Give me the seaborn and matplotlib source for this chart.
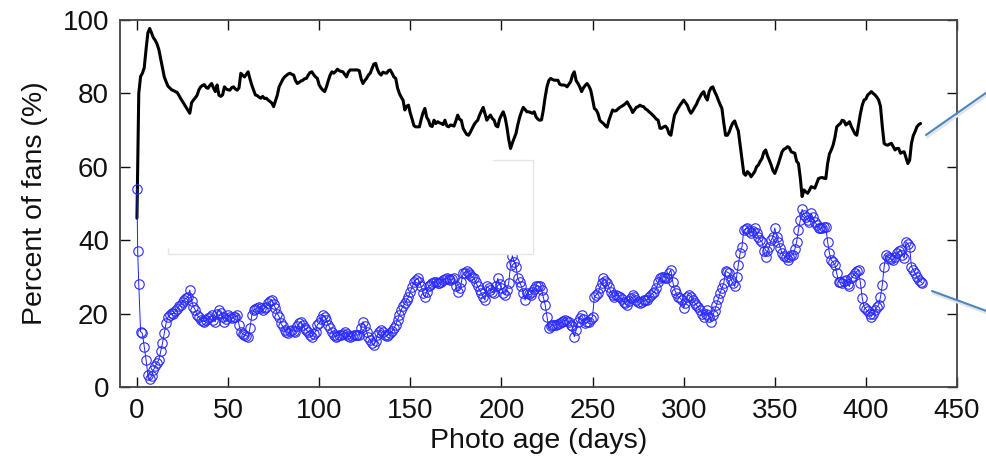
import numpy as np
import pandas as pd
import matplotlib
matplotlib.use("Agg")
import matplotlib.pyplot as plt
from matplotlib.lines import Line2D
from matplotlib.patches import Rectangle
import seaborn as sns

# ---------------- data ----------------
black_days = list(range(0, 431))
black_pct = [
    46, 80, 84.6, 85.5, 87, 92, 96.5, 97.7, 96.5, 95.2,
    94.5, 93.5, 92, 89.5, 87, 84.5, 83.2, 82, 81.5, 81,
    80.8, 80.5, 80.3, 79.5, 78.6, 77.8, 77, 76.2, 75.4, 74.6,
    77.5, 78.2, 78.8, 79.5, 81, 81.8, 82.2, 82.4, 81.6, 81.4,
    82.2, 82.7, 81.5, 80.5, 82.3, 79.5, 79.2, 79.6, 81.8, 81.2,
    81, 80.9, 81.6, 81.8, 81.2, 80.9, 81.5, 85.5, 85, 84.5,
    85.2, 85.9, 84, 82.3, 80.9, 79.6, 79.4, 79, 78.7, 79.2,
    78.6, 78.7, 78.2, 77.8, 77.4, 76.4, 78, 79.5, 81.8, 82.8,
    83.8, 84.5, 84.9, 85.3, 85.5, 85.2, 85, 83.5, 82.7, 83,
    83.4, 83.6, 84, 84.1, 85, 85.7, 85.9, 85.1, 84.5, 84.1,
    82.3, 81.5, 80.9, 80.5, 81.8, 83.5, 85, 85.9, 85.5, 86,
    86.6, 86.2, 86, 85.9, 85.2, 84.5, 85.8, 86.4, 86.4, 86.4,
    86.4, 86.4, 86.2, 84, 82.7, 83.5, 84.1, 85, 85.5, 86.8,
    88, 88.2, 86.5, 85.5, 85, 85.8, 85.6, 85.5, 86.2, 86.4,
    85.5, 84.5, 84.1, 81.5, 80, 79, 78.2, 75.5, 76.5, 76.8,
    74.6, 73, 71.2, 70.9, 70.9, 70.9, 73, 74.8, 75.9, 73.5,
    72.7, 71.2, 71, 72.7, 71.8, 72.3, 72, 71.8, 71.5, 72.7,
    71.2, 70.9, 71.4, 71.3, 71.1, 72.5, 74.1, 73, 72.7, 70.5,
    69.6, 68.8, 68.6, 69.5, 70.5, 71.5, 72.2, 72.7, 74.1, 75.2,
    76.2, 74.5, 72.7, 73.5, 74.1, 73.2, 72.7, 71.2, 70.9, 73,
    74.1, 75, 73.5, 70.9, 67.5, 65, 66.5, 67.8, 69.1, 71.5,
    73.5, 75, 76.2, 75.6, 75, 75, 74.8, 74.6, 75, 73.6,
    73, 72.7, 72.8, 75.5, 79, 81.8, 83.5, 84.1, 83.8, 83.6,
    83.6, 83.6, 82.5, 82.3, 82.3, 82.2, 81.8, 82.5, 83.2, 85,
    85.9, 83.5, 82.7, 81.8, 80.5, 81.5, 82.2, 82.7, 82, 80.9,
    78.5, 75.9, 75.5, 74.5, 72.7, 72.2, 71.8, 71.2, 70.8, 72.7,
    74.1, 75.5, 75.2, 75.3, 75.8, 76.2, 76.5, 76.8, 77.2, 77.7,
    76.8, 76, 74.8, 75.5, 76.2, 76.4, 76.8, 76.5, 76.4, 75.8,
    75.5, 75, 74.6, 74.1, 73.6, 73, 72.7, 70.5, 70.5, 70.9,
    71.1, 70.5, 69, 68.6, 71.5, 74.1, 75, 76, 76.8, 77.5,
    78.2, 77.5, 76.8, 75.5, 74.6, 75.3, 76.2, 77, 78.2, 79.1,
    80, 80.5, 79, 78.2, 80.5, 81.5, 81.8, 80.5, 79.5, 78.2,
    77, 75.9, 72, 68.6, 68.6, 69.5, 70.9, 72, 72.5, 71,
    69.8, 66, 62, 58.2, 57.7, 58.7, 58.2, 57.3, 58, 58.7,
    60, 60.5, 61.5, 62.3, 64, 64.6, 63, 61.8, 60.5, 59,
    58.2, 59.5, 60.9, 62.5, 64.1, 64.8, 65, 65.5, 65.2, 64.1,
    63.9, 63.7, 61.5, 60.9, 57, 51.9, 53.7, 53.2, 52.8, 53.6,
    54.6, 54.4, 54.2, 55.5, 56.8, 57, 57.1, 56.9, 56.8, 60.9,
    63.5, 64.6, 65.9, 68, 70.9, 71.4, 71.8, 72.7, 72.5, 71.4,
    71.8, 72.3, 71, 70, 69, 68.6, 71.5, 74.5, 76.8, 78.2,
    78.5, 79.6, 80, 80.5, 80, 79.6, 79, 78.2, 76.5, 71,
    66.4, 66, 65.9, 66.2, 66.4, 65.5, 64.6, 65, 65, 63.7,
    64, 64.1, 62.5, 60.9, 61.8, 66.4, 68.5, 69.6, 70.9, 71.5,
    71.8,
]

blue_days = [0, 0.4] + list(range(1, 432))
blue_pct = [
    54.0, 37.1,
    28.0, 15.1, 14.6, 11.0, 7.4, 3.3, 2.1, 3.0, 4.6, 5.6,
    6.5, 7.4, 9.7, 11.9, 14.6, 17.4, 19.0, 19.6, 20.1, 20.0,
    20.6, 21.3, 22.0, 22.4, 23.3, 23.8, 24.2, 24.5, 26.4, 23.5,
    21.9, 21.0, 19.6, 19.0, 18.3, 18.0, 17.8, 18.3, 18.7, 19.2,
    19.6, 18.3, 17.8, 20.0, 21.0, 20.1, 19.0, 17.8, 18.5, 19.6,
    19.2, 18.7, 19.0, 19.2, 19.6, 17.0, 15.1, 14.5, 14.2, 14.0,
    13.7, 16.0, 19.5, 21.0, 21.2, 21.5, 21.9, 21.5, 21.0, 21.5,
    21.9, 22.8, 23.5, 23.7, 22.5, 21.5, 20.0, 19.2, 17.4, 16.5,
    15.6, 15.0, 14.6, 15.2, 15.6, 15.3, 15.1, 16.5, 17.4, 17.8,
    17.0, 16.0, 15.5, 15.1, 14.2, 13.7, 14.5, 15.1, 17.0, 17.4,
    18.5, 19.6, 19.0, 18.3, 17.0, 16.0, 15.0, 14.2, 13.7, 14.0,
    14.2, 14.2, 14.5, 15.1, 14.5, 13.9, 13.7, 14.0, 14.2, 14.2,
    14.2, 14.2, 16.0, 17.8, 16.5, 15.1, 13.5, 12.8, 12.0, 11.4,
    12.5, 14.2, 15.0, 15.6, 15.0, 14.2, 14.0, 14.3, 14.6, 15.2,
    16.0, 17.0, 18.3, 19.6, 21.0, 22.0, 22.8, 23.7, 24.5, 26.0,
    27.2, 28.7, 29.2, 29.6, 28.5, 27.4, 25.5, 24.6, 26.0, 27.4,
    27.8, 28.3, 28.7, 28.5, 28.3, 28.3, 28.7, 29.2, 29.4, 29.6,
    29.4, 29.2, 29.4, 29.6, 27.5, 26.0, 27.0, 28.5, 31.0, 31.2,
    31.5, 31.0, 30.6, 30.0, 29.6, 28.5, 27.4, 26.5, 25.6, 24.5,
    23.7, 27.4, 27.0, 26.5, 26.0, 25.6, 27.5, 29.6, 28.0, 26.9,
    25.5, 25.1, 26.5, 28.3, 33.2, 35.8, 34.0, 32.8, 29.6, 28.5,
    27.4, 25.5, 23.7, 25.6, 25.3, 25.1, 26.0, 26.8, 27.4, 27.6,
    27.4, 26.5, 24.5, 22.4, 19.2, 16.0, 16.5, 16.9, 16.9, 16.9,
    17.2, 17.4, 17.8, 18.0, 18.3, 18.0, 17.8, 17.0, 16.5, 13.7,
    15.6, 17.8, 18.8, 19.6, 18.5, 17.4, 17.6, 17.8, 18.5, 19.2,
    24.6, 25.1, 25.6, 27.0, 28.3, 29.6, 29.0, 28.3, 27.2, 26.0,
    25.0, 24.6, 25.1, 24.8, 24.6, 24.0, 23.3, 22.8, 22.4, 23.5,
    24.2, 25.1, 24.5, 23.7, 23.2, 22.8, 23.2, 23.7, 23.7, 23.7,
    24.5, 25.1, 25.6, 26.0, 27.0, 28.5, 29.6, 30.0, 30.1, 29.8,
    29.6, 31.0, 31.9, 28.7, 26.5, 25.5, 24.6, 24.2, 23.7, 21.5,
    23.0, 24.6, 25.1, 24.5, 23.7, 23.0, 22.4, 21.7, 21.0, 20.0,
    19.2, 20.0, 21.0, 19.0, 17.8, 19.5, 20.8, 22.4, 24.0, 25.6,
    27.0, 28.3, 31.5, 31.3, 31.0, 29.2, 28.3, 27.4, 30.0, 33.2,
    36.5, 38.2, 42.8, 43.0, 43.3, 42.5, 41.9, 42.5, 43.3, 42.0,
    41.0, 40.0, 39.6, 37.0, 35.5, 37.0, 38.2, 40.0, 41.0, 43.3,
    41.0, 39.6, 38.0, 36.4, 35.8, 35.5, 34.6, 35.3, 36.0, 36.0,
    37.5, 39.6, 42.8, 45.5, 48.4, 47.0, 46.4, 45.5, 45.1, 47.3,
    46.2, 45.1, 44.2, 43.3, 43.3, 43.3, 43.5, 43.7, 39.6, 36.4,
    34.6, 34.0, 33.3, 31.0, 28.7, 28.5, 28.3, 28.8, 29.2, 28.0,
    27.4, 29.6, 30.3, 31.0, 31.5, 31.9, 28.3, 24.2, 21.9, 21.2,
    20.6, 20.0, 19.2, 20.0, 21.0, 21.7, 22.4, 24.5, 27.8, 32.8,
    36.0, 35.5, 35.1, 34.8, 34.6, 35.5, 36.4, 37.0, 37.4, 36.0,
    35.1, 39.6, 39.0, 38.2, 32.8, 32.0, 31.0, 30.0, 29.2, 28.7,
    28.3,
]

x_ticks = [0, 50, 100, 150, 200, 250, 300, 350, 400, 450]
y_ticks = [0, 20, 40, 60, 80, 100]
x_label = "Photo age (days)"
y_label = "Percent of fans (%)"

# ---------------- styling ----------------
sns.set_style("white", {"xtick.bottom": True, "ytick.left": True,
                        "xtick.top": True, "ytick.right": True,
                        "xtick.direction": "in", "ytick.direction": "in"})
plt.rcParams["font.family"] = ["Liberation Sans", "DejaVu Sans"]
plt.rcParams["xtick.direction"] = "in"
plt.rcParams["ytick.direction"] = "in"

black_df = pd.DataFrame({"day": black_days, "pct": black_pct})
blue_df = pd.DataFrame({"day": blue_days, "pct": blue_pct})

fig = plt.figure(figsize=(9.86, 4.65), dpi=100)
ax = fig.add_axes([0.1217, 0.1677, 0.8489, 0.7892])

sns.lineplot(data=black_df, x="day", y="pct", ax=ax, color="black",
             linewidth=2.2, estimator=None, sort=False, zorder=2)
sns.lineplot(data=blue_df, x="day", y="pct", ax=ax, color="#1f1fff",
             linewidth=0.7, estimator=None, sort=False, marker="o",
             markersize=6.8, markerfacecolor="none", markeredgecolor="#2a2aff",
             markeredgewidth=0.8, zorder=3)

ax.set_xlim(-9.3, 450)
ax.set_ylim(0, 100)
ax.set_xticks(x_ticks)
ax.set_yticks(y_ticks)
ax.set_xlabel(x_label, fontsize=20.5, color="#111111", labelpad=3)
ax.set_ylabel(y_label, fontsize=20.5, color="#111111", labelpad=10)
ax.tick_params(axis="both", which="major", direction="in",
               bottom=True, left=True, top=True, right=True,
               length=7, width=1.0, labelsize=20, colors="#111111", pad=8)
for s in ax.spines.values():
    s.set_visible(True)
    s.set_color("#444444")
    s.set_linewidth(1.3)

# white box partially covering the plot (with faint outline)
ax.add_patch(Rectangle((0.0573, 0.3624), 0.4361, 0.2561, transform=ax.transAxes,
                       facecolor="white", edgecolor="none", zorder=5))
ax.add_line(Line2D([0.4456, 0.4934, 0.4934, 0.0573, 0.0573],
                   [0.6185, 0.6185, 0.3624, 0.3624, 0.3787],
                   transform=ax.transAxes, color="#e6e6e6", linewidth=1.0, zorder=6))

# callout lines leaving the figure on the right
for (x0, y0, x1, y1) in [(0.9391, 0.7097, 1.02, 0.830), (0.9452, 0.3742, 1.02, 0.3161)]:
    fig.add_artist(Line2D([x0 + 0.001, x1 + 0.001], [y0 - 0.005, y1 - 0.005],
                          transform=fig.transFigure, color="#e4e4e4", linewidth=1.8))
    fig.add_artist(Line2D([x0, x1], [y0, y1], transform=fig.transFigure,
                          color="#4a86c0", linewidth=1.5))

fig.savefig("out.png", dpi=100)
